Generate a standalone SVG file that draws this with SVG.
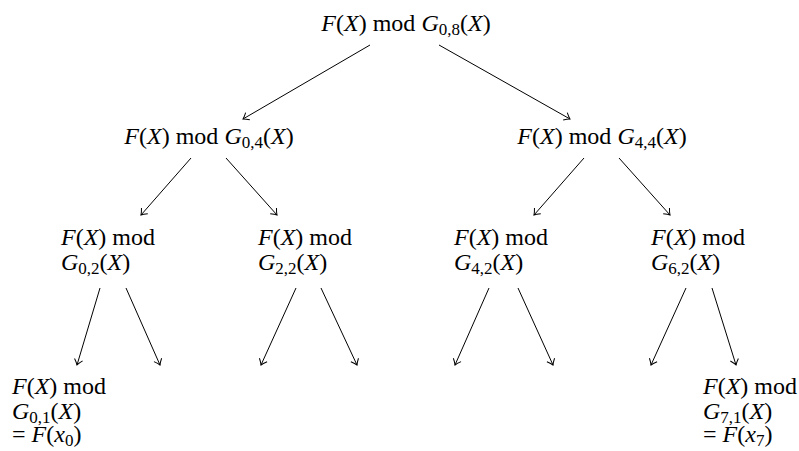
<svg xmlns="http://www.w3.org/2000/svg" width="799" height="451" viewBox="0 0 799 451">
<defs>
<style>
text{font-family:"Liberation Serif","Times New Roman",serif;font-size:24px;fill:#000}
.i{font-style:italic}
.s{font-size:17px}
.edge{stroke:#000;stroke-width:1;fill:none;marker-end:url(#to)}
</style>
<marker id="to" markerUnits="userSpaceOnUse" markerWidth="12" markerHeight="12" refX="0" refY="0" viewBox="-7 -6 8 12" orient="auto">
<path d="M-5.5,-4.2 Q-2,-1 0,0 Q-2,1 -5.5,4.2" stroke="#000" stroke-width="1" fill="none"/>
</marker>
</defs>
<rect width="799" height="451" fill="#fff"/>
<g id="connectors">
<line class="edge" x1="370" y1="45" x2="243" y2="119"/>
<line class="edge" x1="439" y1="45" x2="570" y2="119"/>
<line class="edge" x1="191" y1="158" x2="141" y2="215"/>
<line class="edge" x1="226" y1="158" x2="277" y2="215"/>
<line class="edge" x1="584" y1="158" x2="534" y2="215"/>
<line class="edge" x1="619" y1="158" x2="670" y2="215"/>
<line class="edge" x1="100" y1="288" x2="77" y2="365"/>
<line class="edge" x1="126" y1="288" x2="160" y2="365"/>
<line class="edge" x1="296" y1="288" x2="261" y2="365"/>
<line class="edge" x1="321" y1="288" x2="357" y2="365"/>
<line class="edge" x1="489" y1="288" x2="455" y2="365"/>
<line class="edge" x1="518" y1="288" x2="553" y2="365"/>
<line class="edge" x1="686" y1="288" x2="651" y2="365"/>
<line class="edge" x1="712" y1="288" x2="736" y2="365"/>
</g>
<g id="n08"><text x="406" y="31" text-anchor="middle"><tspan class="i">F</tspan>(<tspan class="i">X</tspan>) mod <tspan class="i">G</tspan><tspan class="s" dy="4">0,8</tspan><tspan dy="-4">(</tspan><tspan class="i">X</tspan>)</text></g>
<g id="n04"><text x="209" y="144" text-anchor="middle"><tspan class="i">F</tspan>(<tspan class="i">X</tspan>) mod <tspan class="i">G</tspan><tspan class="s" dy="4">0,4</tspan><tspan dy="-4">(</tspan><tspan class="i">X</tspan>)</text></g>
<g id="n44"><text x="602" y="144" text-anchor="middle"><tspan class="i">F</tspan>(<tspan class="i">X</tspan>) mod <tspan class="i">G</tspan><tspan class="s" dy="4">4,4</tspan><tspan dy="-4">(</tspan><tspan class="i">X</tspan>)</text></g>
<g id="n02"><text x="61" y="245"><tspan class="i">F</tspan>(<tspan class="i">X</tspan>) mod</text><text x="61" y="270"><tspan class="i">G</tspan><tspan class="s" dy="4">0,2</tspan><tspan dy="-4">(</tspan><tspan class="i">X</tspan>)</text></g>
<g id="n22"><text x="258" y="245"><tspan class="i">F</tspan>(<tspan class="i">X</tspan>) mod</text><text x="258" y="270"><tspan class="i">G</tspan><tspan class="s" dy="4">2,2</tspan><tspan dy="-4">(</tspan><tspan class="i">X</tspan>)</text></g>
<g id="n42"><text x="454" y="245"><tspan class="i">F</tspan>(<tspan class="i">X</tspan>) mod</text><text x="454" y="270"><tspan class="i">G</tspan><tspan class="s" dy="4">4,2</tspan><tspan dy="-4">(</tspan><tspan class="i">X</tspan>)</text></g>
<g id="n62"><text x="651" y="245"><tspan class="i">F</tspan>(<tspan class="i">X</tspan>) mod</text><text x="651" y="270"><tspan class="i">G</tspan><tspan class="s" dy="4">6,2</tspan><tspan dy="-4">(</tspan><tspan class="i">X</tspan>)</text></g>
<g id="n01"><text x="12" y="394"><tspan class="i">F</tspan>(<tspan class="i">X</tspan>) mod</text><text x="12" y="419"><tspan class="i">G</tspan><tspan class="s" dy="4">0,1</tspan><tspan dy="-4">(</tspan><tspan class="i">X</tspan>)</text><text x="12" y="442">= <tspan class="i">F</tspan>(<tspan class="i">x</tspan><tspan class="s" dy="4">0</tspan><tspan dy="-4">)</tspan></text></g>
<g id="n71"><text x="703" y="394"><tspan class="i">F</tspan>(<tspan class="i">X</tspan>) mod</text><text x="703" y="419"><tspan class="i">G</tspan><tspan class="s" dy="4">7,1</tspan><tspan dy="-4">(</tspan><tspan class="i">X</tspan>)</text><text x="703" y="442">= <tspan class="i">F</tspan>(<tspan class="i">x</tspan><tspan class="s" dy="4">7</tspan><tspan dy="-4">)</tspan></text></g>
</svg>
